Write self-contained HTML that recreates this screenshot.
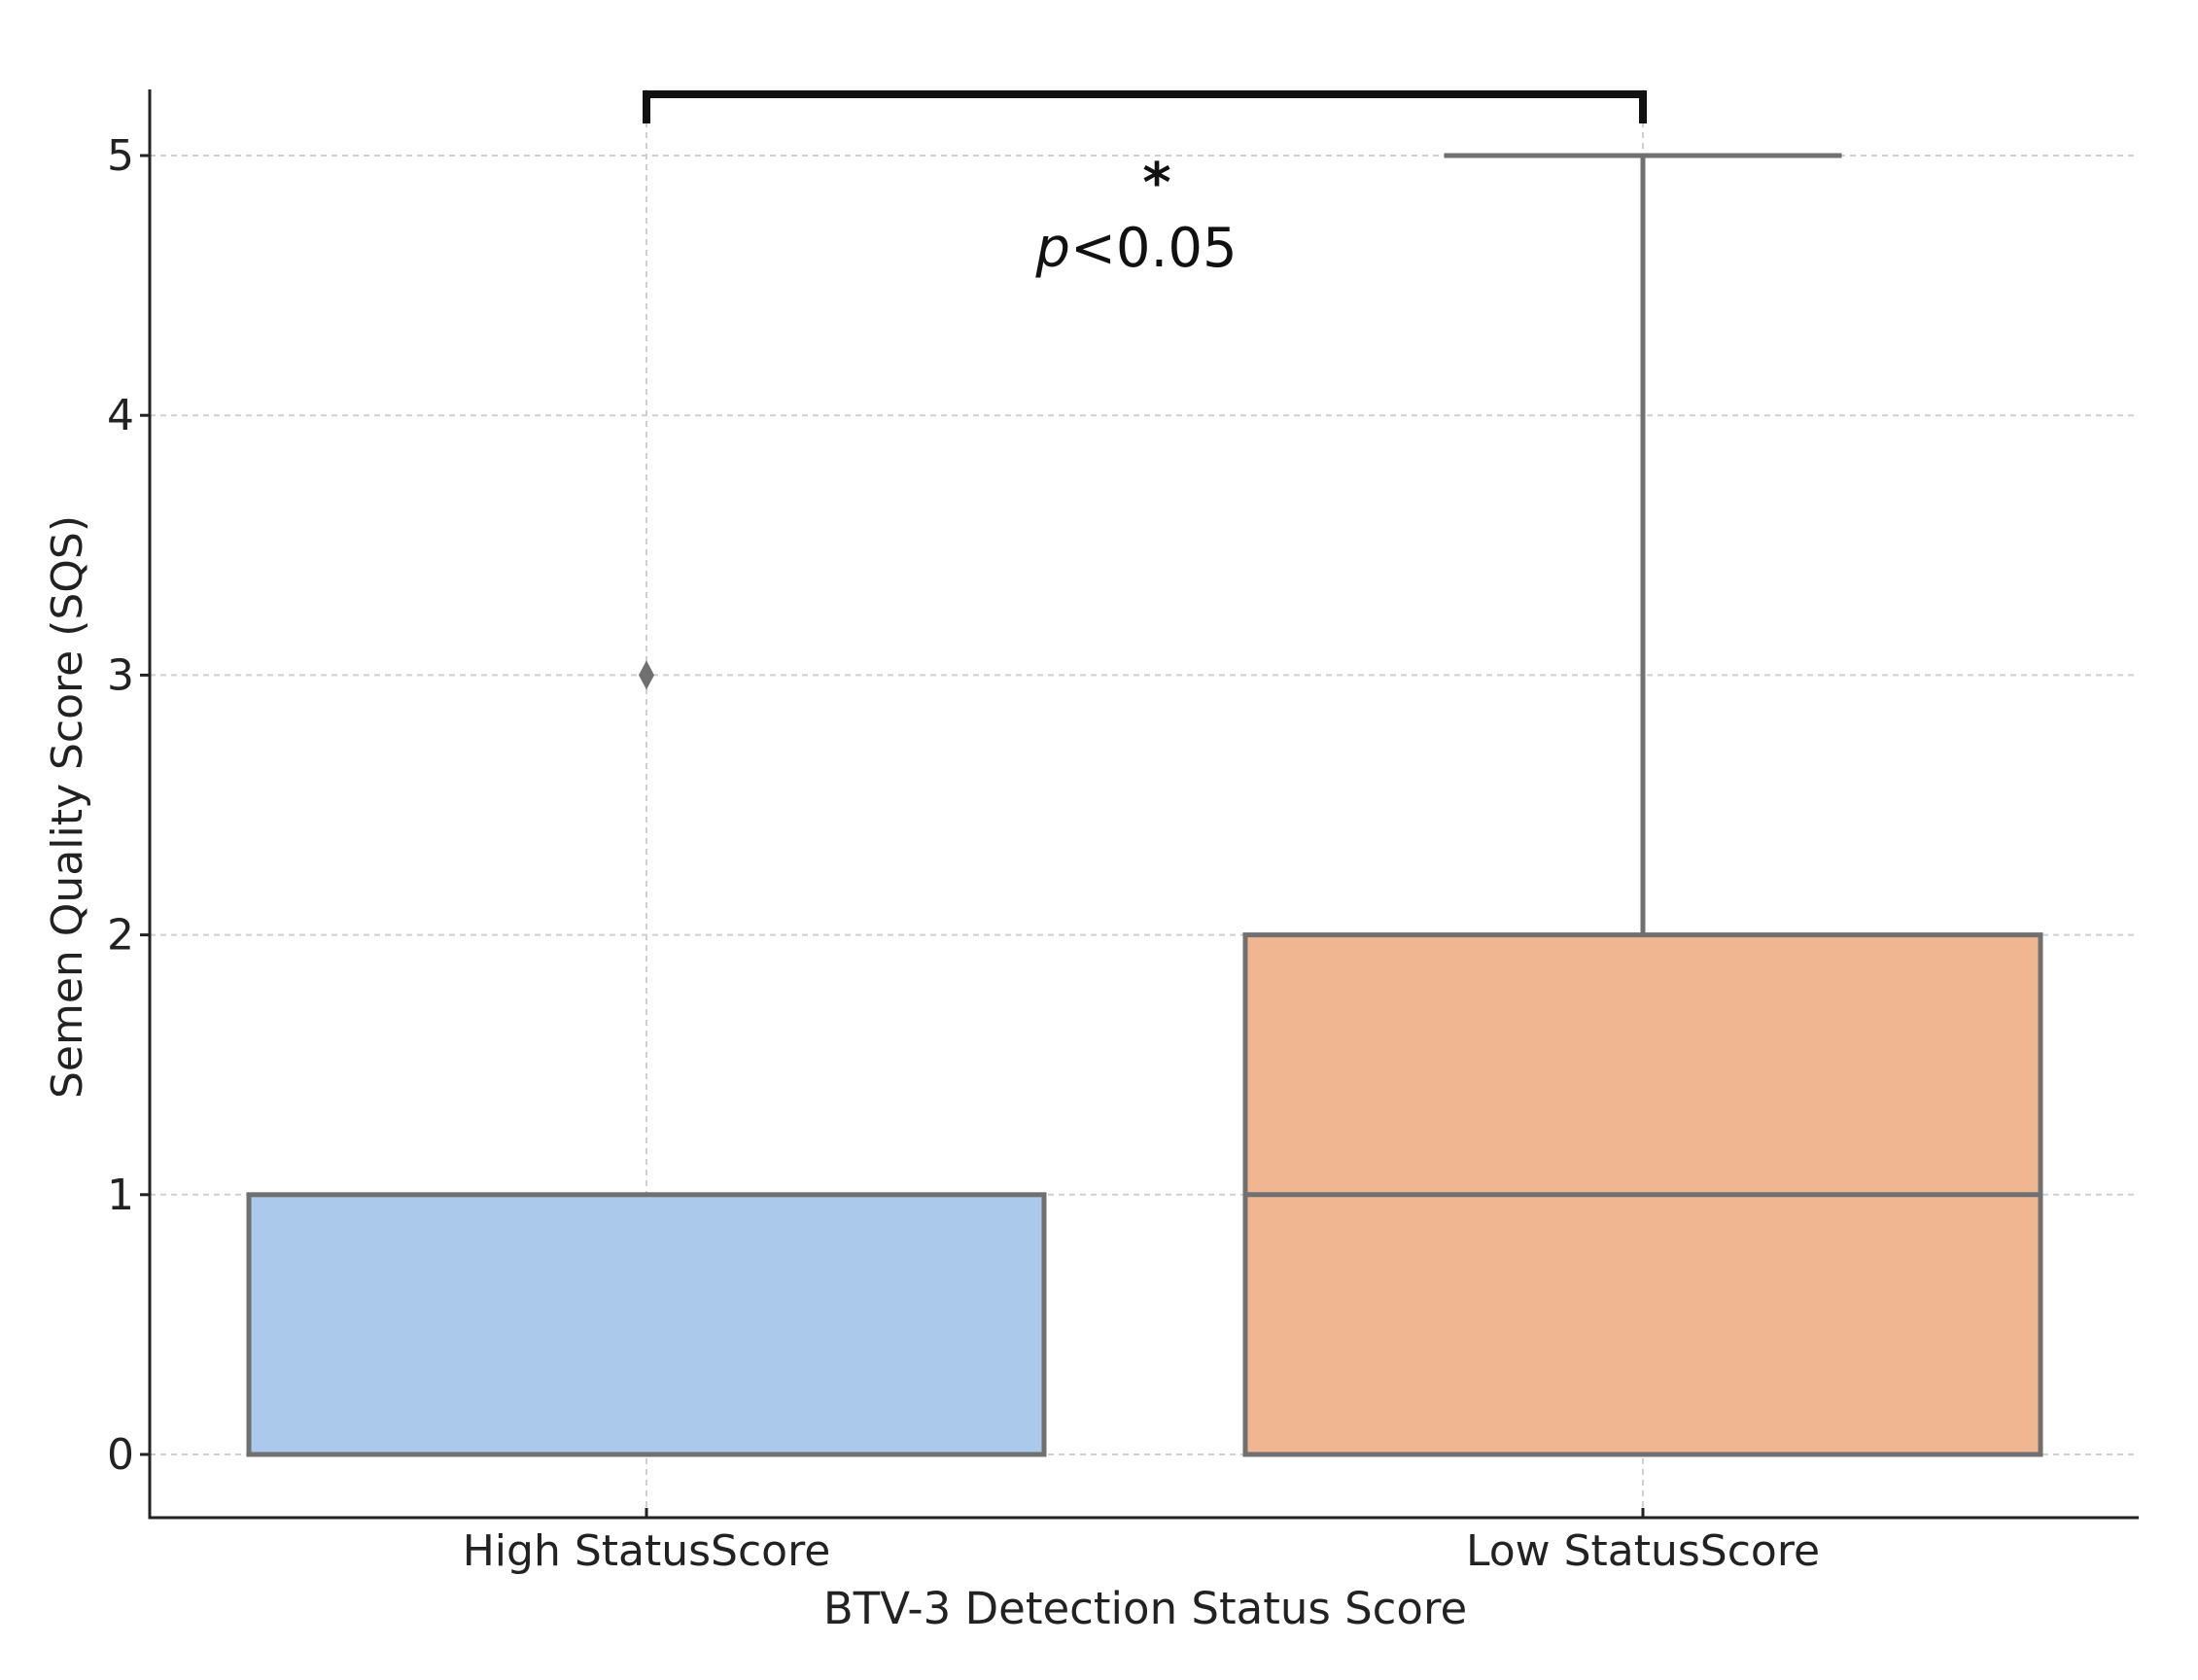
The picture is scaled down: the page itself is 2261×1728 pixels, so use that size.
<!DOCTYPE html>
<html><head><meta charset="utf-8"><style>
html,body{margin:0;padding:0;background:#fff;}
svg{display:block;font-family:"DejaVu Sans","Liberation Sans",sans-serif;}
</style></head><body>
<svg id="chart" width="2261" height="1728" viewBox="0 0 2261 1728">
<g id="grid"></g>
<g id="boxes"></g>
<g id="axes"></g>
<g>
<path d="M665 127 V97 H1690 V127" fill="none" stroke="#111" stroke-width="8"/>
<text x="1190" y="207" text-anchor="middle" font-size="56" font-weight="bold" fill="#111">*</text>
<text x="1169" y="274" text-anchor="middle" font-size="56" fill="#111"><tspan font-style="italic">p</tspan>&lt;0.05</text>
</g>
<text x="1178" y="1670" text-anchor="middle" font-size="45" fill="#222">BTV-3 Detection Status Score</text>
<text transform="translate(84,830) rotate(-90)" text-anchor="middle" font-size="44" fill="#222">Semen Quality Score (SQS)</text>
</svg>
<script>
const categories = ["High StatusScore", "Low StatusScore"];
const q1 = [0, 0];
const medians = [0, 1];
const q3 = [1, 2];
const whiskLo = [0, 0];
const whiskHi = [1, 5];
const outliers = [[3], []];
const yTicks = [0, 1, 2, 3, 4, 5];
const colors = ["#abc9eb", "#f0b692"];

const NS = "http://www.w3.org/2000/svg";
const plotL = 154, plotR = 2200, plotT = 92, plotB = 1561;
const yS = v => 1496 - v * 267.2;
const xc = i => 665 + i * 1025;
const halfW = 409;
function mk(tag, attrs, parent) {
  const e = document.createElementNS(NS, tag);
  for (const k in attrs) e.setAttribute(k, attrs[k]);
  parent.appendChild(e);
  return e;
}
const grid = document.getElementById("grid");
const axes = document.getElementById("axes");
const boxes = document.getElementById("boxes");
yTicks.forEach(t => {
  const g = mk("line", {x1: plotL, x2: plotR, y1: yS(t), y2: yS(t), stroke: "#cfcfcf", "stroke-width": 2, "stroke-dasharray": "6,5"}, grid);
  
  
  const tk = mk("line", {x1: plotL - 10, x2: plotL, y1: yS(t), y2: yS(t), stroke: "#222", "stroke-width": 3}, axes);
  
  
  const lb = mk("text", {x: plotL - 16, y: yS(t) + 15, "text-anchor": "end", "font-size": 44, fill: "#222"}, axes);
  lb.textContent = t;
  
  
});
categories.forEach((c, i) => {
  const g = mk("line", {x1: xc(i), x2: xc(i), y1: plotT, y2: plotB, stroke: "#cfcfcf", "stroke-width": 2, "stroke-dasharray": "6,5"}, grid);
  
  
  const tk = mk("line", {x1: xc(i), x2: xc(i), y1: plotB - 10, y2: plotB, stroke: "#222", "stroke-width": 3}, axes);
  
  
  const lb = mk("text", {x: xc(i), y: 1610, "text-anchor": "middle", "font-size": 44, fill: "#222"}, axes);
  lb.textContent = c;
  
  

  const grp = mk("g", {}, boxes);
  
  
  const st = {stroke: "#707070", "stroke-width": 5};
  if (whiskHi[i] > q3[i]) {
    mk("line", Object.assign({x1: xc(i), x2: xc(i), y1: yS(q3[i]), y2: yS(whiskHi[i])}, st), grp);
    mk("line", Object.assign({x1: xc(i) - halfW / 2, x2: xc(i) + halfW / 2, y1: yS(whiskHi[i]), y2: yS(whiskHi[i])}, st), grp);
  }
  if (whiskLo[i] < q1[i]) {
    mk("line", Object.assign({x1: xc(i), x2: xc(i), y1: yS(q1[i]), y2: yS(whiskLo[i])}, st), grp);
  }
  const r = mk("rect", Object.assign({x: xc(i) - halfW, y: yS(q3[i]), width: 2 * halfW, height: yS(q1[i]) - yS(q3[i]), fill: colors[i]}, st), grp);
  
  
  const m = mk("line", Object.assign({x1: xc(i) - halfW, x2: xc(i) + halfW, y1: yS(medians[i]), y2: yS(medians[i])}, st), grp);
  
  
  outliers[i].forEach(o => {
    const cy = yS(o), cx = xc(i);
    const d = mk("path", {d: `M${cx} ${cy - 15} L${cx + 8} ${cy} L${cx} ${cy + 15} L${cx - 8} ${cy} Z`, fill: "#707070"}, grp);
    
    
  });
});
const ax = mk("path", {d: `M${plotL} ${plotT} V${plotB} H${plotR}`, fill: "none", stroke: "#222", "stroke-width": 3}, axes);


</script>
</body></html>
